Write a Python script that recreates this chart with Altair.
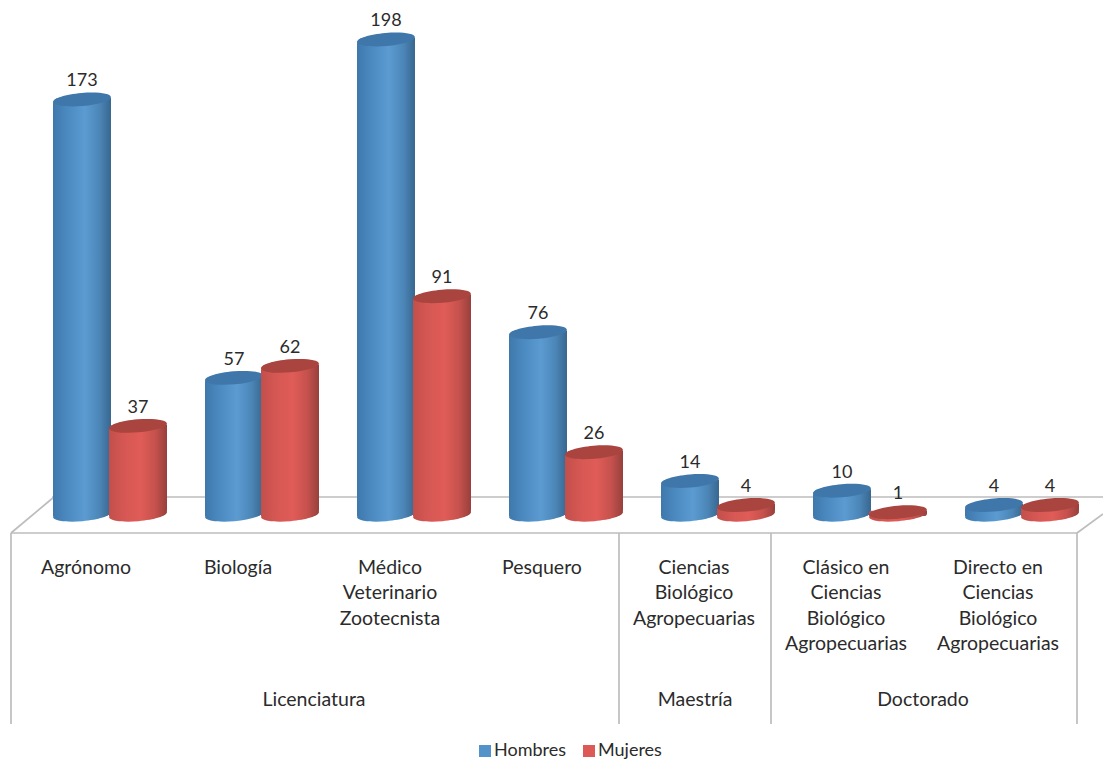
import math
import altair as alt
import pandas as pd

categories = ["Agrónomo", "Biología", "Médico\nVeterinario\nZootecnista", "Pesquero",
              "Ciencias\nBiológico\nAgropecuarias",
              "Clásico en\nCiencias\nBiológico\nAgropecuarias",
              "Directo en\nCiencias\nBiológico\nAgropecuarias"]
hombres = [173, 57, 198, 76, 14, 10, 4]
mujeres = [37, 62, 91, 26, 4, 1, 4]
series = ["Hombres", "Mujeres"]
groups = ["Licenciatura", "Maestría", "Doctorado"]

FONT = "Lato"
INK = "#2b2b2b"
FRAME = "#bdbdbd"


def ellipse(ry=0.225, deg=-5.0):
    a = math.radians(deg)
    ux, uy = math.cos(a), math.sin(a)
    vx, vy = -math.sin(a) * ry, math.cos(a) * ry
    k = 0.5523
    pts = [((ux, uy), (vx, vy)), ((vx, vy), (-ux, -uy)),
           ((-ux, -uy), (-vx, -vy)), ((-vx, -vy), (ux, uy))]
    d = f"M{ux:.4f},{uy:.4f}"
    for (p, q) in pts:
        c1 = (p[0] + k * q[0], p[1] + k * q[1])
        c2 = (q[0] + k * p[0], q[1] + k * p[1])
        d += f" C{c1[0]:.4f},{c1[1]:.4f} {c2[0]:.4f},{c2[1]:.4f} {q[0]:.4f},{q[1]:.4f}"
    return d + " Z"


SHAPE = ellipse()


def grad(stops):
    return alt.LinearGradient(
        gradient="linear", x1=0, x2=1, y1=0, y2=0,
        stops=[alt.GradientStop(offset=o, color=c) for o, c in stops])


BLUE = grad([(0, "#3f78ac"), (0.25, "#4b8ac0"), (0.55, "#5b9bd1"), (0.8, "#4c86b8"), (1, "#38678f")])
RED = grad([(0, "#c24f4b"), (0.25, "#d55753"), (0.55, "#e05c58"), (0.8, "#c5514d"), (1, "#97403c")])

df = pd.DataFrame({
    "cat": categories * 2,
    "serie": [series[0]] * len(categories) + [series[1]] * len(categories),
    "v": hombres + mujeres,
})

x = alt.X("cat:N", axis=None, scale=alt.Scale(domain=categories, range=[26, 1090], paddingInner=0, paddingOuter=0))
xo = alt.XOffset("serie:N", scale=alt.Scale(domain=series, paddingInner=0, paddingOuter=0.357))
yscale = alt.Scale(domain=[-101.8, 211.1], nice=False, zero=False)
y = alt.Y("v:Q", axis=None, scale=yscale)
base = alt.Chart(df)


def seg(x1, y1, x2, y2):
    return alt.Chart(pd.DataFrame({"k": [0]})).mark_rule(color=FRAME, strokeWidth=1.7).encode(
        x=alt.value(x1), x2=alt.value(x2), y=alt.value(y1), y2=alt.value(y2))


frame = [
    seg(3, 525, 1069, 525),      # front floor edge
    seg(44, 489, 1095, 489),     # back floor edge
    seg(3, 525, 46, 489),        # left slant
    seg(1069, 525, 1095, 506),   # right slant
    seg(3, 525, 3, 716),
    seg(611, 525, 611, 716),
    seg(763, 525, 763, 716),
    seg(1069, 525, 1069, 716),
]

layers = list(frame)
for s, body, top in [(series[0], BLUE, "#3f77aa"), (series[1], RED, "#a9443f")]:
    d = base.transform_filter(alt.datum.serie == s)
    layers.append(d.transform_calculate(z="0")
                  .mark_point(shape=SHAPE, size=3364, filled=True, fill=body, opacity=1, strokeWidth=0)
                  .encode(x=x, xOffset=xo, y=alt.Y("z:Q", axis=None, scale=yscale)))
    layers.append(d.transform_calculate(t="datum.v + 0.6")
                  .mark_bar(size=58, fill=body, cornerRadiusTopLeft=6, cornerRadiusBottomRight=6)
                  .encode(x=x, xOffset=xo, y=alt.Y("t:Q", axis=None, scale=yscale), y2=alt.Y2(datum=-0.6)))
    layers.append(d.mark_point(shape=SHAPE, size=3364, filled=True, fill=top, opacity=1, strokeWidth=0)
                  .encode(x=x, xOffset=xo, y=y))

layers.append(base.mark_text(font=FONT, fontSize=18, color=INK, dy=-18, baseline="middle")
              .encode(x=x, xOffset=xo, y=y, text="v:Q"))

cat_df = pd.DataFrame({"cat": categories, "v": [-18.3] * len(categories)})
layers.append(alt.Chart(cat_df).mark_text(font=FONT, fontSize=19.5, color=INK, dx=-24, baseline="top",
                                          lineBreak="\n", lineHeight=25.6, align="center")
              .encode(x=x, y=y, text="cat:N"))

for g, px in zip(groups, [306, 687, 915]):
    layers.append(alt.Chart(pd.DataFrame({"g": [g]})).mark_text(font=FONT, fontSize=19.5, color=INK, baseline="middle")
                  .encode(x=alt.value(px), y=alt.value(692), text="g:N"))

legend = alt.Legend(title=None, orient="none", legendX=468, legendY=734, direction="horizontal",
                    symbolType="square", symbolSize=144, symbolStrokeWidth=0, labelFont=FONT, labelFontSize=18,
                    labelColor=INK, columnPadding=13, labelOffset=0)
layers.append(alt.Chart(pd.DataFrame({"serie": series})).mark_square(size=0, opacity=1).encode(
    color=alt.Color("serie:N", legend=legend,
                    scale=alt.Scale(domain=series, range=["#5393ca", "#dc5955"]))))

chart = alt.layer(*layers).properties(
    width=1095, height=751, padding=0, autosize=alt.AutoSizeParams(type="none"), background="white"
).configure_view(stroke=None)

chart.save("out.html", embed_options={"renderer": "svg", "actions": False})
